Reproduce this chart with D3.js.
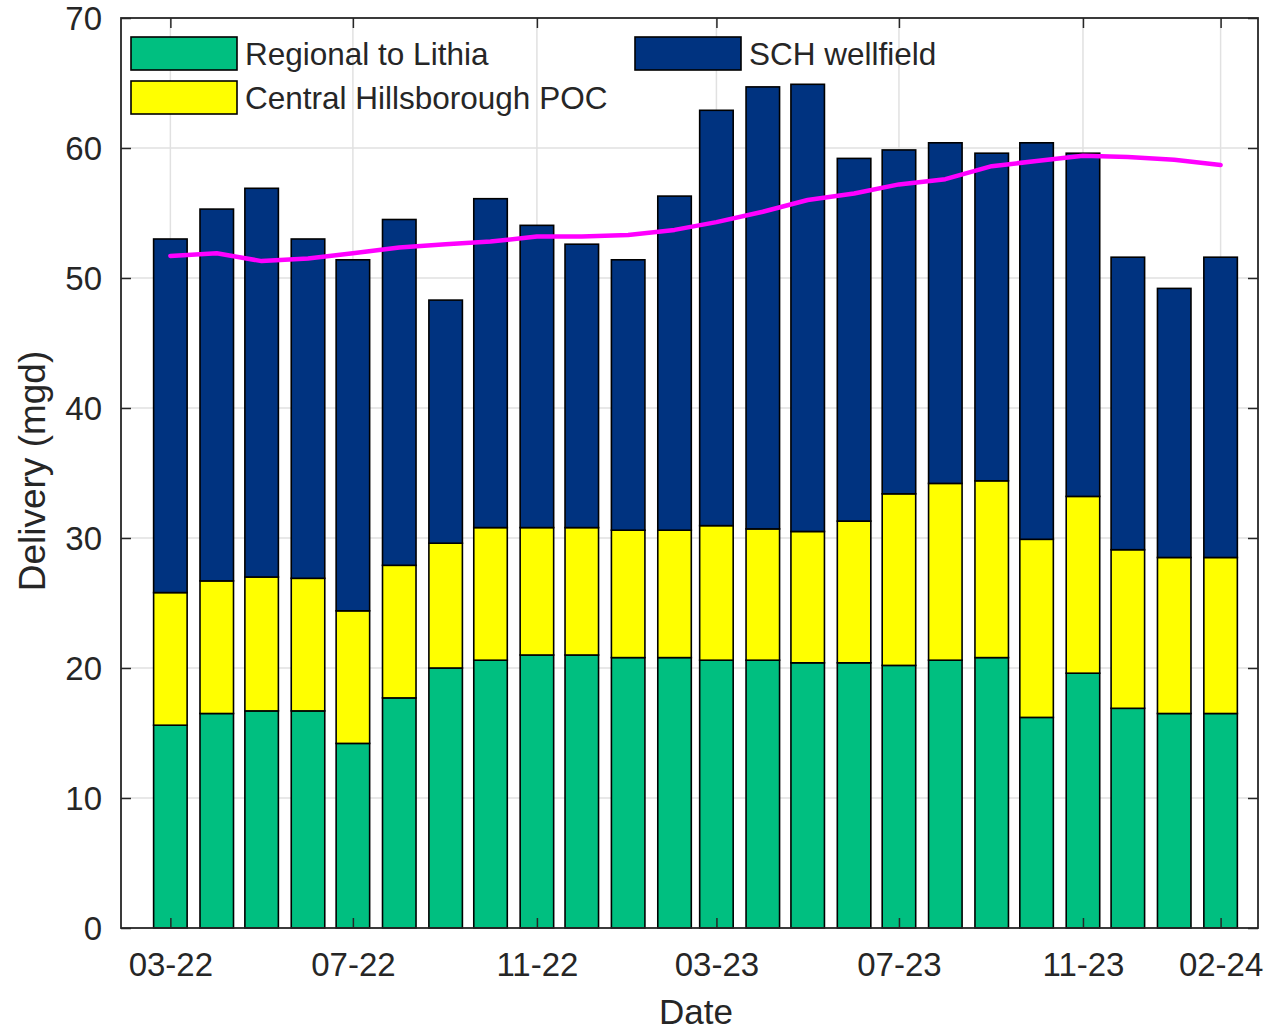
<!DOCTYPE html>
<html><head><meta charset="utf-8">
<script src="https://cdn.jsdelivr.net/npm/d3@7"></script>
<style>
body{margin:0;background:#fff;}
svg{display:block;}
text{font-family:"Liberation Sans",Arial,Helvetica,sans-serif;fill:#262626;}
</style>
</head><body>
<svg id="chart" width="1266" height="1031"></svg>
<script>
// ---- data ----
const months = ["2022-03","2022-04","2022-05","2022-06","2022-07","2022-08","2022-09","2022-10","2022-11","2022-12",
  "2023-01","2023-02","2023-03","2023-04","2023-05","2023-06","2023-07","2023-08","2023-09","2023-10","2023-11","2023-12",
  "2024-01","2024-02"];
const regionalToLithia = [15.6,16.5,16.7,16.7,14.2,17.7,20.0,20.6,21.0,21.0,20.8,20.8,20.6,20.6,20.4,20.4,20.2,20.6,20.8,16.2,19.6,16.9,16.5,16.5];
const centralHillsboroughPOC = [10.2,10.2,10.3,10.2,10.2,10.2,9.6,10.2,9.8,9.8,9.8,9.8,10.35,10.1,10.1,10.9,13.2,13.6,13.6,13.7,13.6,12.2,12.0,12.0];
const schWellfield = [27.2,28.6,29.9,26.1,27.0,26.6,18.7,25.3,23.25,21.8,20.8,25.7,31.95,34.0,34.4,27.9,26.45,26.2,25.2,30.5,26.4,22.5,20.7,23.1];
const trendLine = [51.7,51.9,51.3,51.5,51.9,52.35,52.6,52.8,53.2,53.2,53.3,53.7,54.3,55.1,56.0,56.5,57.2,57.6,58.6,59.0,59.4,59.3,59.1,58.7];
const seriesKeys = ["regional","central","sch"];
const seriesNames = ["Regional to Lithia","Central Hillsborough POC","SCH wellfield"];
const seriesColors = ["#00bf80","#ffff00","#003380"];
const trendColor = "#ff00ff";
const xTickMonths = ["2022-03","2022-07","2022-11","2023-03","2023-07","2023-11","2024-02"];
const yTicks = [0,10,20,30,40,50,60,70];
const xLimits = ["2022-01-27","2024-02-26"];
const yLimits = [0,70];
const xLabel = "Date";
const yLabel = "Delivery (mgd)";

// ---- layout ----
const W = 1266, H = 1031;
const plot = {left:121, right:1258, top:18, bottom:928};
const axisColor = "#262626", gridColor = "#e1e1e1";

const parseM = d3.timeParse("%Y-%m");
const parseD = d3.timeParse("%Y-%m-%d");
const dates = months.map(parseM);

const svg = d3.select("#chart");
const x = d3.scaleTime().domain(xLimits.map(parseD)).range([plot.left, plot.right]);
const y = d3.scaleLinear().domain(yLimits).range([plot.bottom, plot.top]);

const rows = dates.map((d,i)=>({date:d, regional:regionalToLithia[i], central:centralHillsboroughPOC[i], sch:schWellfield[i]}));
const stacked = d3.stack().keys(seriesKeys)(rows);

// grid
const xTicks = xTickMonths.map(parseM);
const grid = svg.append("g");
grid.selectAll(".gx").data(xTicks).join("line")
  .attr("x1",d=>x(d)).attr("x2",d=>x(d)).attr("y1",plot.top).attr("y2",plot.bottom)
  .attr("stroke",gridColor).attr("stroke-width",1.5);
grid.selectAll(".gy").data(yTicks.slice(1,-1)).join("line")
  .attr("x1",plot.left).attr("x2",plot.right).attr("y1",d=>y(d)).attr("y2",d=>y(d))
  .attr("stroke",gridColor).attr("stroke-width",1.5);

// bars
const DAY = 86400000;
const halfW = 0.8*28*DAY/2;
const gBars = svg.append("g");
stacked.forEach((s,si)=>{
  gBars.append("g").selectAll("rect").data(s).join("rect")
    .attr("x",d=>x(new Date(+d.data.date - halfW)))
    .attr("width",d=>x(new Date(+d.data.date + halfW)) - x(new Date(+d.data.date - halfW)))
    .attr("y",d=>y(d[1]))
    .attr("height",d=>y(d[0])-y(d[1]))
    .attr("fill",seriesColors[si])
    .attr("stroke","#000").attr("stroke-width",1.6);
});

// trend line
svg.append("path")
  .datum(trendLine.map((v,i)=>[dates[i],v]))
  .attr("fill","none").attr("stroke",trendColor).attr("stroke-width",4.5)
  .attr("stroke-linejoin","round").attr("stroke-linecap","round")
  .attr("d",d3.line().x(d=>x(d[0])).y(d=>y(d[1])));

// axes
const fmt = d3.timeFormat("%m-%y");
const tickLen = 10;
const axB = svg.append("g").attr("transform",`translate(0,${plot.bottom})`)
  .call(d3.axisBottom(x).tickValues(xTicks).tickFormat(fmt).tickSizeInner(-tickLen).tickSizeOuter(0).tickPadding(28));
const axT = svg.append("g").attr("transform",`translate(0,${plot.top})`)
  .call(d3.axisTop(x).tickValues(xTicks).tickFormat("").tickSizeInner(-tickLen).tickSizeOuter(0));
const axL = svg.append("g").attr("transform",`translate(${plot.left},0)`)
  .call(d3.axisLeft(y).tickValues(yTicks).tickFormat(d3.format("d")).tickSizeInner(-tickLen).tickSizeOuter(0).tickPadding(19));
const axR = svg.append("g").attr("transform",`translate(${plot.right},0)`)
  .call(d3.axisRight(y).tickValues(yTicks).tickFormat("").tickSizeInner(-tickLen).tickSizeOuter(0));
[axB,axT,axL,axR].forEach(a=>{
  a.select(".domain").remove();
  a.selectAll(".tick line").attr("stroke",axisColor).attr("stroke-width",1.5);
  a.selectAll("text").attr("font-size",33).attr("fill",axisColor)
    .style("font-family",'"Liberation Sans",Arial,sans-serif');
});
axB.selectAll(".tick text").attr("dy","0.71em").attr("y",25);
axL.selectAll(".tick text").attr("dy","0.36em");

// frame
svg.append("rect").attr("x",plot.left).attr("y",plot.top)
  .attr("width",plot.right-plot.left).attr("height",plot.bottom-plot.top)
  .attr("fill","none").attr("stroke",axisColor).attr("stroke-width",1.8);

// axis labels
svg.append("text").attr("x",696).attr("y",1024)
  .attr("text-anchor","middle").attr("font-size",35).text(xLabel);
svg.append("text").attr("transform",`translate(45,471) rotate(-90)`)
  .attr("text-anchor","middle").attr("font-size",37).text(yLabel);

// legend
const legendItems = [
  {i:0, sx:131, sy:37, tx:245},
  {i:2, sx:635, sy:37, tx:749},
  {i:1, sx:131, sy:81, tx:245}
];
const gL = svg.append("g");
legendItems.forEach(it=>{
  gL.append("rect").attr("x",it.sx).attr("y",it.sy).attr("width",106).attr("height",33)
    .attr("fill",seriesColors[it.i]).attr("stroke","#000").attr("stroke-width",1.6);
  gL.append("text").attr("x",it.tx).attr("y",it.sy+16.5).attr("dy","0.36em")
    .attr("font-size",31.5).text(seriesNames[it.i]);
});
</script>
</body></html>
